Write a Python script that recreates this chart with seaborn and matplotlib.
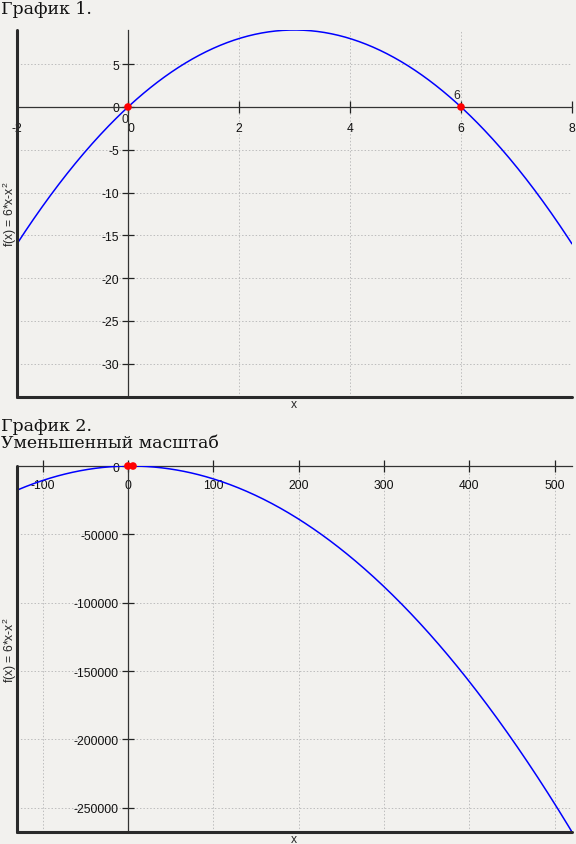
import numpy as np
import pandas as pd
import matplotlib
matplotlib.use("Agg")
import matplotlib.pyplot as plt
import matplotlib.transforms as mtrans
import seaborn as sns

# ---- data ----
coef = [6, -1]                      # f(x) = 6*x - x^2
roots_x = [0, 6]
roots_y = [0, 0]
root_labels = ["0", "6"]

x1_range = [-2, 8]
x1_ticks = [-2, 0, 2, 4, 6, 8]
y1_ticks = [5, 0, -5, -10, -15, -20, -25, -30]
y1_lim = [-33.9, 9]

x2_range = [-130, 520.5]
x2_ticks = [-100, 0, 100, 200, 300, 400, 500]
y2_ticks = [0, -50000, -100000, -150000, -200000, -250000]

titles = ["График 1.", "График 2.\nУменьшенный масштаб"]
xlabel = "x"
ylabel = "f(x) = 6*x-x$^{2}$"

def f(x):
    return coef[0] * x + coef[1] * x ** 2

sns.set_theme(style="white")
plt.rcParams["font.family"] = ["Liberation Sans", "DejaVu Sans"]
plt.rcParams["mathtext.fontset"] = "custom"
plt.rcParams["mathtext.rm"] = "Liberation Sans"

BG = "#f2f1ee"
FS = 8.7
W, H = 576, 845
fig = plt.figure(figsize=(W / 100, H / 100), dpi=100, facecolor=BG)

def px_axes(l, t, r, b):
    return fig.add_axes([l / W, (H - b) / H, (r - l) / W, (b - t) / H])

def style(ax, xt, yt, xlim, ylim, xpad):
    ax.set_facecolor(BG)
    for s in ["top", "right"]:
        ax.spines[s].set_visible(False)
    ax.spines["left"].set_position(("data", 0))
    ax.spines["bottom"].set_position(("data", 0))
    for s in ["left", "bottom"]:
        ax.spines[s].set_color("#333333")
        ax.spines[s].set_linewidth(0.9)
        ax.spines[s].set_zorder(2)
    ax.set_xlim(*xlim)
    ax.set_ylim(*ylim)
    ax.set_xticks(xt)
    ax.set_yticks(yt)
    ax.set_xticklabels([str(v) for v in xt])
    ax.set_yticklabels([str(v) for v in yt])
    ax.grid(True, linestyle=(0, (1.5, 2)), color="#bdbdbd", linewidth=0.7)
    ax.tick_params(axis="both", direction="inout", length=9, width=0.9,
                   color="#222", bottom=True, left=True, labelsize=FS,
                   labelcolor="#111")
    ax.tick_params(axis="x", pad=xpad)
    ax.tick_params(axis="y", pad=2)
    # frame lines (left and bottom edges)
    ax.plot([0, 0], [0, 1], transform=ax.transAxes, color="#2a2a2a",
            lw=2.2, clip_on=False, zorder=5)
    ax.plot([0, 1], [0, 0], transform=ax.transAxes, color="#2a2a2a",
            lw=2.2, clip_on=False, zorder=5)
    ax.set_xlabel("")
    ax.set_ylabel("")

# ---- chart 1 ----
ax1 = px_axes(17, 31, 572, 398)
xs1 = np.linspace(x1_range[0], x1_range[1], 400)
df1 = pd.DataFrame({"x": xs1, "y": f(xs1)})
sns.lineplot(data=df1, x="x", y="y", ax=ax1, color="#0000ff", lw=1.1, zorder=3)
sns.scatterplot(x=roots_x, y=roots_y, ax=ax1, color="#ff0000", s=30,
                edgecolor="none", zorder=6)
style(ax1, x1_ticks, y1_ticks, x1_range, y1_lim, 6)
ax1.annotate(root_labels[0], (roots_x[0], roots_y[0]), xytext=(-2.5, -8.5),
             textcoords="offset points", ha="center", va="center", fontsize=FS)
ax1.annotate(root_labels[1], (roots_x[1], roots_y[1]), xytext=(-3, 8.5),
             textcoords="offset points", ha="center", va="center", fontsize=FS)
# the x tick label "0" sits slightly right of its tick in the reference
for lab in ax1.get_xticklabels():
    if lab.get_text() == "0":
        lab.set_transform(lab.get_transform() +
                          mtrans.ScaledTranslation(3 / 100, 0, fig.dpi_scale_trans))

# ---- chart 2 ----
ax2 = px_axes(17, 467, 572, 833)
xs2 = np.linspace(x2_range[0], x2_range[1], 600)
df2 = pd.DataFrame({"x": xs2, "y": f(xs2)})
sns.lineplot(data=df2, x="x", y="y", ax=ax2, color="#0000ff", lw=1.1, zorder=3)
sns.scatterplot(x=roots_x, y=roots_y, ax=ax2, color="#ff0000", s=30,
                edgecolor="none", zorder=6, clip_on=False)
style(ax2, x2_ticks, y2_ticks, x2_range, [f(x2_range[1]), 9], 4.5)

# axis labels & titles
for ax, top, bot in [(ax1, 31, 398), (ax2, 467, 833)]:
    fig.text(294 / W, 1 - (bot + 7.5) / H, xlabel, ha="center", va="center", fontsize=FS)
    fig.text(10 / W, 1 - ((top + bot) / 2) / H, ylabel, ha="center",
             va="center", rotation=90, fontsize=FS)

fig.text(1 / W, 1 - 9 / H, titles[0], ha="left", va="center", fontsize=12.5,
         family="DejaVu Serif", color="#111")
fig.text(1 / W, 1 - 435 / H, titles[1], ha="left", va="center", fontsize=12.5,
         family="DejaVu Serif", linespacing=1.05, color="#111")

fig.savefig("out.png", dpi=100, facecolor=BG)
